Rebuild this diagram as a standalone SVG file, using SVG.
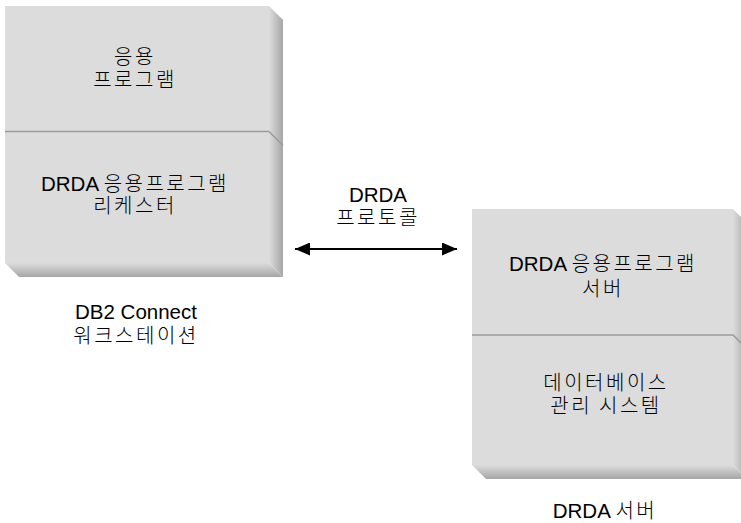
<svg xmlns="http://www.w3.org/2000/svg" width="741" height="523" viewBox="0 0 741 523">
<defs>
<linearGradient id="gR" x1="0" y1="0" x2="1" y2="0"><stop offset="0" stop-color="#dcdcdc"/><stop offset="1" stop-color="#a6a6a6"/></linearGradient>
<linearGradient id="gB" x1="0" y1="0" x2="0" y2="1"><stop offset="0" stop-color="#dcdcdc"/><stop offset="1" stop-color="#a6a6a6"/></linearGradient>
<marker id="ah" viewBox="0 0 15 13" refX="15" refY="6.5" markerWidth="15" markerHeight="13" markerUnits="userSpaceOnUse" orient="auto-start-reverse"><path d="M0,0 L15,6.5 L0,13 Z" fill="#000"/></marker>
<style>
.face{fill:#dcdcdc}
.div{fill:none;stroke:#9a9a9a;stroke-width:1.5}
text{font-family:"Liberation Sans","Noto Sans CJK KR",sans-serif;font-size:20.5px;fill:#000;text-anchor:middle}
.k{font-family:"Noto Sans CJK KR",sans-serif;font-size:20px;letter-spacing:2.5px;font-weight:300}
</style>
</defs>
<g id="workstation">
<rect class="face" x="5" y="6" width="264" height="257"/>
<polygon points="269,6 283,20 283,277 269,263" fill="url(#gR)"/>
<polygon points="5,263 269,263 283,277 19,277" fill="url(#gB)"/>
<polyline class="div" points="5,131.5 269,131.5 283,145.5"/>
<text x="135" y="64"><tspan class="k">응용</tspan></text>
<text x="135" y="87"><tspan class="k">프로그램</tspan></text>
<text x="135" y="191">DRDA <tspan class="k">응용프로그램</tspan></text>
<text x="135" y="213"><tspan class="k">리케스터</tspan></text>
<text x="136" y="319">DB2 Connect</text>
<text x="136" y="343"><tspan class="k">워크스테이션</tspan></text>
</g>
<g id="server">
<rect class="face" x="472" y="209" width="261" height="256"/>
<polygon points="733,209 747,223 747,479 733,465" fill="url(#gR)"/>
<polygon points="472,465 733,465 747,479 486,479" fill="url(#gB)"/>
<polyline class="div" points="472,335 733,335 747,349"/>
<text x="603" y="271">DRDA <tspan class="k">응용프로그램</tspan></text>
<text x="603" y="296"><tspan class="k">서버</tspan></text>
<text x="606" y="390"><tspan class="k">데이터베이스</tspan></text>
<text x="606" y="413"><tspan class="k">관리 시스템</tspan></text>
<text x="605" y="518">DRDA <tspan class="k">서버</tspan></text>
</g>
<g id="connectors">
<line x1="295" y1="249" x2="457" y2="249" stroke="#000" stroke-width="2" marker-start="url(#ah)" marker-end="url(#ah)"/>
<text x="378" y="202">DRDA</text>
<text x="378" y="225"><tspan class="k">프로토콜</tspan></text>
</g>
</svg>
